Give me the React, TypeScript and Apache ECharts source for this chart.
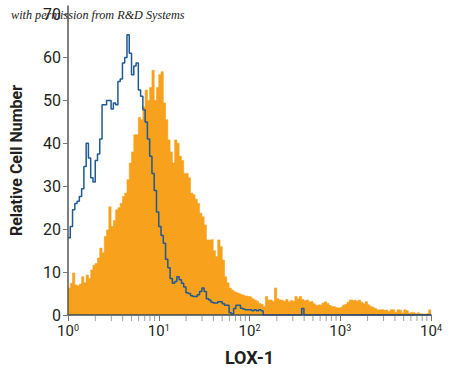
import React, { useEffect, useRef } from "react";
import * as echarts from "echarts";

// Histogram bins are 0.025 decade wide, starting at 10^0 (log10 = 0)
const BIN_START = 0;
const BIN_WIDTH = 0.025;

// Orange: LOX-1 stained cells (relative cell number per bin)
const stainedCounts = [
  6.3, 7.4, 9.8, 7, 6.8, 7.2, 8.9, 7.5, 9.3, 8.5,
  10.5, 11.6, 12, 13.3, 15.6, 14.5, 18.3, 19.8, 25.2, 20.6,
  22, 24.5, 25, 26, 27.6, 28.4, 31.5, 35.4, 38, 42,
  42, 46, 45.5, 48.5, 52.4, 50, 53, 57, 50, 53,
  56, 56.7, 49.4, 45.5, 40.8, 38, 35.4, 40.8, 40, 37,
  36, 33, 33, 32, 28.4, 28, 27, 26, 23.7, 22.9,
  21, 17.5, 17.5, 17.6, 15, 13.6, 17.5, 15.9, 12.8, 8.9,
  7.5, 6.3, 5.8, 5.4, 5.2, 5, 4.8, 4.6, 4.4, 4.3,
  4.2, 3.8, 3.5, 3.2, 2.7, 2.5, 2, 4.3, 3.5, 3.5,
  3.2, 6.3, 3.8, 3.5, 3.4, 3.2, 3.6, 3.1, 3.4, 3.2,
  4.3, 3.8, 4.3, 3.6, 3.3, 3.5, 3.1, 3.2, 2.6, 2.3,
  2.4, 2.3, 2.8, 3.1, 2.7, 2.2, 2, 1.9, 1.7, 1.6,
  1.8, 2.3, 2.5, 3, 3.5, 3.4, 3.5, 3.2, 3.5, 3,
  2.6, 3.1, 2.4, 2, 1.8, 1.5, 1.2, 1.2, 1.3, 1.1,
  1.2, 0.8, 1.2, 1.3, 0.6, 1.2, 1.1, 0.5, 1.2, 1.0,
  0.4, 0.6, 0.5, 0.3, 0.5, 0.3, 0.2, 0.3, 0.4, 1.2,
];

// Blue: isotype control (relative cell number per bin)
const controlCounts = [
  18, 20.6, 24.5, 26, 26.5, 27.6, 29.4, 34.6, 40, 36.6,
  32, 31, 36, 37.5, 41, 49, 49, 50, 50, 48,
  49.4, 49, 54.4, 55, 58.7, 60, 65.3, 61, 56, 58,
  58.7, 52.4, 51, 47.8, 45, 41, 37, 33, 29, 24,
  20.6, 18.5, 16.7, 13, 11, 8.5, 7.4, 7.8, 8.9, 8.2,
  7.4, 6.5, 5.2, 5, 4.5, 4.3, 4.3, 4.7, 5.5, 6.3,
  5.5, 3.8, 3.5, 3, 2.8, 2.8, 3.1, 3.1, 2.6, 2.3,
  2.3, 0.5, 0.3, 1.5, 2.3, 2.3, 1.6, 1.4, 1.2, 1.2,
  1.2, 1.0, 1.2, 1.0, 1.2, 1.0, 0, 0, 0, 0,
  0, 0, 0, 0, 0, 0, 0, 0, 0, 0,
  0, 0, 0, 1.5, 0, 0, 0, 0, 0, 0,
  0, 0, 0, 0, 0, 0, 0, 0, 0, 0,
  0, 0, 0, 0, 0, 0, 0, 0, 0, 0,
  0, 0, 0, 0, 0, 0, 0, 0, 0, 0,
  0, 0, 0, 0, 0, 0, 0, 0, 0, 0,
  0, 0, 0, 0, 0, 0, 0, 0, 0, 0,
];

// Axis: decades 10^0 .. 10^4, minor ticks at 2..9 within each decade
const decadeExponents = [0, 1, 2, 3, 4];
const minorMultipliers = [2, 3, 4, 5, 6, 7, 8, 9];
const yTicks = [0, 10, 20, 30, 40, 50, 60, 70];
const Y_AXIS_TOP = 72;

const ORANGE = "#F7A11C";
const BLUE = "#1E5A94";
const FONT = "'Liberation Sans Narrow', 'Roboto', sans-serif";

function toSteps(counts: number[]): number[][] {
  const pts = counts.map((v, i) => [BIN_START + i * BIN_WIDTH, v]);
  pts.push([BIN_START + counts.length * BIN_WIDTH, counts[counts.length - 1]]);
  return pts;
}

export default function App() {
  const ref = useRef<HTMLDivElement>(null);
  useEffect(() => {
    if (!ref.current) return;
    const chart = echarts.init(ref.current, null, { renderer: "svg" });
    const minorTickData: number[][] = [];
    decadeExponents.slice(0, -1).forEach((d) => {
      minorMultipliers.forEach((m) => minorTickData.push([d + Math.log10(m), 0]));
    });
    chart.setOption({
      animation: false,
      backgroundColor: "#ffffff",
      grid: { left: 68, right: 19, top: 6, bottom: 62 },
      xAxis: {
        type: "value",
        min: decadeExponents[0],
        max: decadeExponents[decadeExponents.length - 1],
        interval: 1,
        z: 10,
        name: "LOX-1",
        nameLocation: "middle",
        nameGap: 33,
        nameTextStyle: { fontFamily: FONT, fontWeight: "bold", fontSize: 18, color: "#231F20" },
        axisLine: { show: true, lineStyle: { color: "#3a4a5a", width: 1.5 } },
        axisTick: { show: true, length: 6, lineStyle: { color: "#777", width: 1 } },
        splitLine: { show: false },
        axisLabel: {
          margin: 8,
          formatter: (v: number) => `{b|10}{s|${Math.round(v)}}`,
          rich: {
            b: { fontFamily: FONT, fontSize: 15, color: "#231F20", lineHeight: 16 },
            s: { fontFamily: FONT, fontSize: 9, color: "#231F20", verticalAlign: "top", lineHeight: 10 },
          },
        },
      },
      yAxis: {
        type: "value",
        min: yTicks[0],
        max: Y_AXIS_TOP,
        z: 10,
        name: "Relative Cell Number",
        nameLocation: "middle",
        nameGap: 44,
        nameTextStyle: { fontFamily: FONT, fontWeight: "bold", fontSize: 16, color: "#231F20" },
        axisLine: { show: true, lineStyle: { color: "#555", width: 1.5 } },
        axisTick: { show: true, length: 5, customValues: yTicks, lineStyle: { color: "#777" } },
        splitLine: { show: false },
        axisLabel: { margin: 7, customValues: yTicks, fontFamily: FONT, fontSize: 16, color: "#231F20" },
      },
      graphic: [
        {
          type: "text",
          left: 11,
          top: 9,
          z: 100,
          style: {
            text: "with permission from R&D Systems",
            fontFamily: "'Liberation Serif', 'DejaVu Serif', serif",
            fontStyle: "italic",
            fontSize: 12.2,
            fill: "#222",
          },
        },
      ],
      series: [
        {
          type: "line",
          step: "end",
          data: toSteps(stainedCounts),
          symbol: "none",
          lineStyle: { width: 0.6, color: ORANGE },
          areaStyle: { color: ORANGE, opacity: 1 },
          z: 2,
        },
        {
          type: "line",
          step: "end",
          data: toSteps(controlCounts),
          symbol: "none",
          lineStyle: { width: 1.5, color: BLUE },
          z: 3,
        },
        {
          type: "scatter",
          data: minorTickData,
          symbol: "rect",
          symbolSize: [1, 5],
          symbolOffset: [0, 3.5],
          itemStyle: { color: "#888" },
          clip: false,
          silent: true,
          z: 11,
        },
      ],
    });
    return () => chart.dispose();
  }, []);
  return (
    <div
      ref={ref}
      style={{ position: "fixed", left: 0, top: 0, width: 450, height: 377 }}
    />
  );
}
